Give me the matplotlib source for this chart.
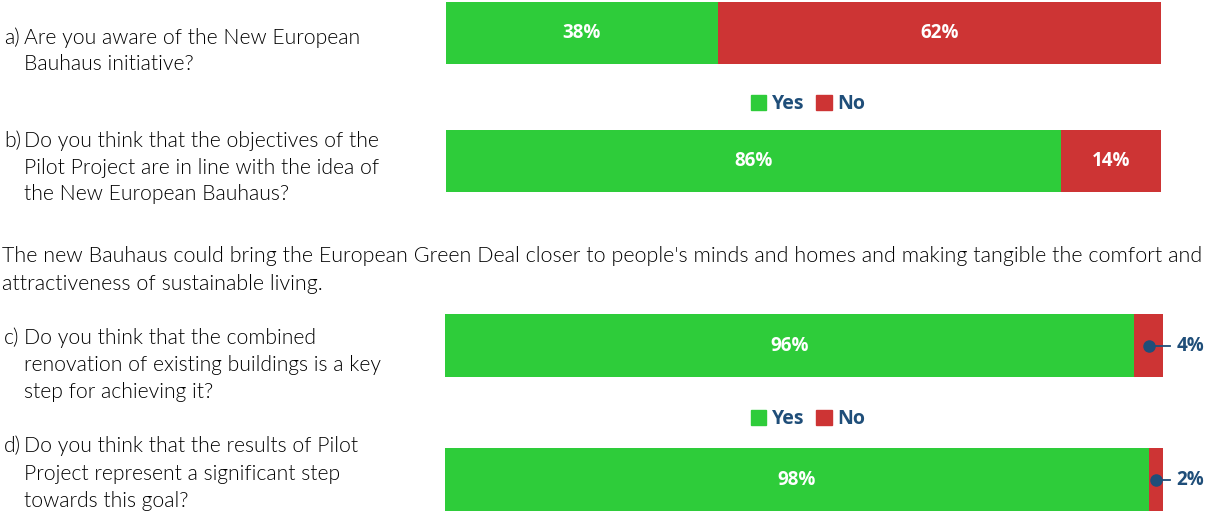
import matplotlib.pyplot as plt

W, H = 1212, 511

# data
top_yes = [38, 86]
top_no = [62, 14]
bottom_yes = [96, 98]
bottom_no = [4, 2]
series = ["Yes", "No"]

questions = [
    ("a)", ["Are you aware of the New European", "Bauhaus initiative?"]),
    ("b)", ["Do you think that the objectives of the", "Pilot Project are in line with the idea of",
            "the New European Bauhaus?"]),
    ("c)", ["Do you think that the combined", "renovation of existing buildings is a key",
            "step for achieving it?"]),
    ("d)", ["Do you think that the results of Pilot", "Project represent a significant step",
            "towards this goal?"]),
]
paragraph = ["The new Bauhaus could bring the European Green Deal closer to people's minds and homes and making tangible the comfort and",
             "attractiveness of sustainable living."]

GREEN = "#2ECC3A"
RED = "#CD3434"
NAVY = "#1F4E79"
QFONT = "Lato"
QSIZE = 15.2

fig = plt.figure(figsize=(W / 100, H / 100), dpi=100)


def px_axes(x0, y0, x1, y1):
    return fig.add_axes([x0 / W, 1 - y1 / H, (x1 - x0) / W, (y1 - y0) / H])


def draw_group(ax, yes, no, bar_h, ylim, outside=False):
    pos = list(range(len(yes)))
    ax.barh(pos, yes, height=bar_h, color=GREEN, label=series[0])
    ax.barh(pos, no, left=yes, height=bar_h, color=RED, label=series[1])
    ax.set_xlim(0, 100)
    ax.set_ylim(*ylim)
    ax.axis("off")
    for i in pos:
        ax.text(yes[i] / 2, i, f"{yes[i]}%", ha="center", va="center",
                color="white", fontsize=13.5, fontweight="bold", family="Open Sans")
        if outside:
            cx = yes[i] + no[i] / 2
            ax.plot([cx, 101.0], [i, i], color=NAVY, lw=1.3, clip_on=False)
            ax.plot(cx, i, "o", color=NAVY, ms=8, clip_on=False)
            ax.text(101.9, i, f"{no[i]}%", ha="left", va="center",
                    color=NAVY, fontsize=13.5, fontweight="bold", family="Open Sans")
        else:
            ax.text(yes[i] + no[i] / 2, i, f"{no[i]}%", ha="center", va="center",
                    color="white", fontsize=13.5, fontweight="bold", family="Open Sans")


# top group: bar centres at px 33 and 160.5
ax1 = px_axes(446, 0, 1161, 195)
draw_group(ax1, top_yes, top_no, 62 / 127.5, ((195 - 33) / 127.5, -33 / 127.5))

# bottom group: bar centres at px 345.5 and 479.5
ax2 = px_axes(445, 300, 1163, 511)
draw_group(ax2, bottom_yes, bottom_no, 63 / 134, ((511 - 345.5) / 134, (300 - 345.5) / 134), outside=True)


def legend_at(y):
    handles = [plt.Rectangle((0, 0), 1, 1, color=GREEN), plt.Rectangle((0, 0), 1, 1, color=RED)]
    leg = fig.legend(handles, series, loc="center", bbox_to_anchor=(808 / W, 1 - y / H),
                     ncol=2, frameon=False, handlelength=0.8, handleheight=0.8,
                     handletextpad=0.3, columnspacing=0.6,
                     prop={"family": "Open Sans", "weight": "bold", "size": 14})
    for t in leg.get_texts():
        t.set_color(NAVY)


legend_at(104)
legend_at(419)


def line(x, y, s, size=QSIZE):
    fig.text(x / W, 1 - y / H, s, ha="left", va="baseline", fontsize=size,
             family=QFONT, fontweight=300, color="black")


def question(label, body, y, step=25.5):
    line(4, y, label)
    for k, s in enumerate(body):
        line(24, y + k * step, s)


question(*questions[0], 44)
question(*questions[1], 147, 26.5)
for k, s in enumerate(paragraph):
    line(2, 262 + k * 27.5, s, 15.5)
question(*questions[2], 344, 27)
question(*questions[3], 452, 27.5)

fig.savefig("out.png", dpi=100, facecolor="white")
